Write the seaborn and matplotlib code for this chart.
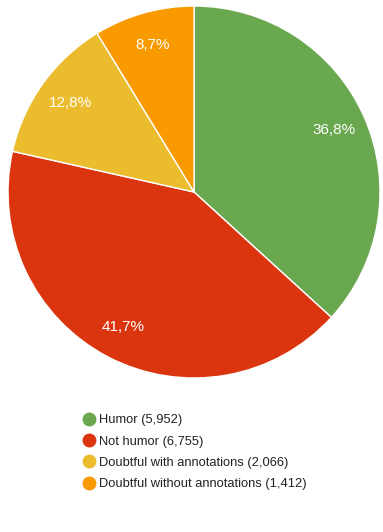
import matplotlib
matplotlib.use("Agg")
import matplotlib.pyplot as plt
from matplotlib.lines import Line2D
import seaborn as sns

# Data
labels = ['Humor', 'Not humor', 'Doubtful with annotations', 'Doubtful without annotations']
counts = [5952, 6755, 2066, 1412]
colors = ['#6aa84f', '#db3510', '#ebbc2e', '#f89a00']

sns.set_style('white')
plt.rcParams['font.family'] = ['Liberation Sans', 'DejaVu Sans']

fig = plt.figure(figsize=(3.83, 5.32), dpi=100)
ax = fig.add_axes([0.0209, 0.2895, 0.9713, 0.6992])

wedges, texts, autotexts = ax.pie(
    counts,
    colors=colors,
    startangle=90,
    counterclock=False,
    autopct=lambda p: f'{p:.1f}%'.replace('.', ','),
    pctdistance=0.82,
    wedgeprops={'edgecolor': 'white', 'linewidth': 1},
    textprops={'color': 'white', 'fontsize': 11},
)
ax.set_aspect('auto')
ax.set_xlim(-1, 1)
ax.set_ylim(-1, 1)
ax.axis('off')

# Legend below the pie
handles = [
    Line2D([0], [0], marker='o', linestyle='', markersize=9,
           markerfacecolor=c, markeredgecolor=c)
    for c in colors
]
legend_labels = [f'{l} ({n:,})' for l, n in zip(labels, counts)]
fig.legend(handles, legend_labels, loc='upper left',
           bbox_to_anchor=(78 / 383, 1 - 409 / 532),
           frameon=False, fontsize=9.3, handlelength=0.9,
           handletextpad=0.35, labelspacing=0.72, borderaxespad=0,
           labelcolor='#222222')

plt.savefig('out.png', dpi=100)
plt.close()
